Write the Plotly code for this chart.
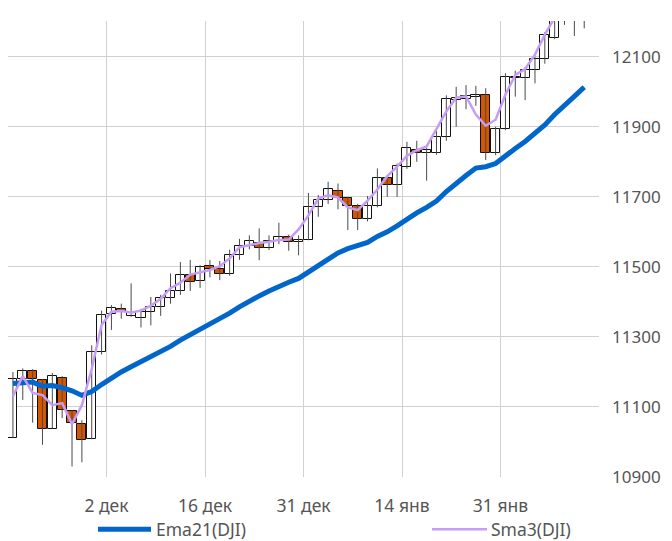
import plotly.graph_objects as go

dates = ["2010-11-18","2010-11-19","2010-11-22","2010-11-23","2010-11-24","2010-11-26","2010-11-29","2010-11-30",
         "2010-12-01","2010-12-02","2010-12-03","2010-12-06","2010-12-07","2010-12-08","2010-12-09","2010-12-10",
         "2010-12-13","2010-12-14","2010-12-15","2010-12-16","2010-12-17","2010-12-20","2010-12-21","2010-12-22",
         "2010-12-23","2010-12-27","2010-12-28","2010-12-29","2010-12-30","2010-12-31","2011-01-03","2011-01-04",
         "2011-01-05","2011-01-06","2011-01-07","2011-01-10","2011-01-11","2011-01-12","2011-01-13","2011-01-14",
         "2011-01-18","2011-01-19","2011-01-20","2011-01-21","2011-01-24","2011-01-25","2011-01-26","2011-01-27",
         "2011-01-28","2011-01-31","2011-02-01","2011-02-02","2011-02-03","2011-02-04","2011-02-07","2011-02-08",
         "2011-02-09","2011-02-10","2011-02-11"]

open_ = [11011,11181,11203,11178,11038,11184,11088,11050,11008,11257,11364,11381,11360,11355,11372,11386,
         11411,11431,11478,11459,11502,11494,11480,11533,11560,11567,11555,11574,11584,11571,11577,11671,
         11691,11717,11697,11674,11638,11674,11755,11733,11786,11835,11825,11826,11872,11976,11978,11986,
         11991,11826,11893,12038,12038,12062,12093,12153,12233,12239,12229]
high = [11200,11210,11208,11180,11197,11188,11090,11062,11276,11375,11391,11395,11453,11380,11414,11420,
        11481,11514,11520,11505,11520,11517,11549,11580,11590,11610,11590,11626,11592,11590,11711,11705,
        11743,11738,11700,11680,11702,11781,11760,11795,11857,11860,11840,11890,11990,12014,12019,12017,
        12010,11900,12053,12060,12070,12100,12170,12245,12250,12245,12285]
low = [11011,11120,11055,10992,11038,11068,10930,10942,11008,11250,11320,11352,11357,11327,11333,11360,
       11395,11420,11431,11440,11470,11462,11475,11520,11550,11519,11548,11565,11546,11533,11576,11643,
       11680,11664,11605,11605,11630,11670,11700,11700,11780,11800,11746,11820,11860,11900,11950,11960,
       11805,11819,11890,11986,11976,12024,12080,12150,12191,12159,12181]
close = [11181,11204,11179,11037,11187,11092,11053,11007,11256,11363,11383,11370,11368,11371,11386,11410,
         11430,11477,11458,11500,11493,11479,11533,11560,11574,11555,11574,11586,11571,11578,11671,11692,
         11723,11697,11675,11638,11674,11755,11733,11788,11838,11826,11835,11872,11980,11981,11988,11991,
         11826,11893,12041,12041,12062,12093,12162,12233,12240,12229,12273]

ema21 = [11167,11170,11171,11159,11161,11155,11146,11133,11144,11164,11184,11200,11215,11229,11242,11257,
         11273,11291,11306,11324,11339,11352,11368,11386,11403,11417,11431,11445,11456,11467,11486,11505,
         11524,11540,11552,11560,11570,11587,11600,11617,11637,11654,11670,11688,11715,11739,11761,11782,
         11786,11795,11818,11838,11858,11880,11905,11935,11963,11987,12013]
sma3 = [11131,11188,11140,11134,11105,11111,11051,11105,11209,11334,11372,11374,11370,11375,11389,11409,
        11439,11455,11478,11484,11491,11502,11524,11556,11563,11568,11572,11577,11578,11607,11647,11695,
        11704,11698,11670,11662,11689,11721,11759,11786,11817,11833,11844,11896,11944,11983,11987,11935,
        11903,11920,11992,12048,12065,12106,12163,12212,12234,12247,12257]

tick_dates = ["2010-12-02","2010-12-16","2010-12-31","2011-01-14","2011-01-31"]
tick_labels = ["2 дек","16 дек","31 дек","14 янв","31 янв"]
y_ticks = [10900,11100,11300,11500,11700,11900,12100]

FONT = "Noto Sans"
TXT = "#555555"
ORANGE = "#d65500"

idx = list(range(len(dates)))

# wicks
wx, wy = [], []
for i in idx:
    wx += [i, i, None]
    wy += [low[i], high[i], None]

body_base = [min(o, c) for o, c in zip(open_, close)]
body_h = [max(abs(c - o), 1) for o, c in zip(open_, close)]
body_col = ["#ffffff" if c >= o else ORANGE for o, c in zip(open_, close)]

fig = go.Figure()
fig.add_trace(go.Scatter(x=wx, y=wy, mode="lines", line=dict(color="#4a4a4a", width=1),
                         showlegend=False, hoverinfo="skip"))
fig.add_trace(go.Bar(x=idx, y=body_h, base=body_base, width=0.92,
                     marker=dict(color=body_col, line=dict(color="#111111", width=1)),
                     showlegend=False))
fig.add_trace(go.Scatter(x=idx, y=ema21, mode="lines", name="Ema21(DJI)",
                         line=dict(color="#0066cc", width=5), showlegend=False))
fig.add_trace(go.Scatter(x=idx, y=sma3, mode="lines", name="Sma3(DJI)",
                         line=dict(color="#c69cf4", width=2.5), showlegend=False))

tickpos = [dates.index(d) + 0.5 for d in tick_dates]
xmin, xmax = -0.5, len(dates) + 0.5

fig.update_xaxes(range=[xmin, xmax], tickmode="array",
                 tickvals=[xmin] + tickpos + [xmax - 0.0001],
                 ticktext=[""] + tick_labels + [""],
                 showgrid=True, gridcolor="#d0d0d0", gridwidth=1,
                 zeroline=False, showline=False, ticks="",
                 tickfont=dict(family=FONT, size=17.5, color=TXT),
                 ticklabelstandoff=16)
fig.update_yaxes(range=[10900, 12202], side="right", tickmode="array", tickvals=y_ticks,
                 ticktext=[str(v) for v in y_ticks],
                 showgrid=True, gridcolor="#d0d0d0", gridwidth=1, zeroline=False,
                 showline=False, ticks="",
                 tickfont=dict(family=FONT, size=17, color=TXT),
                 ticklabelstandoff=12)

# manual legend
L, R, T, B = 8, 599, 21, 476.7
def px(x): return (x - L) / (R - L)
def py(y): return (B - y) / (B - T)
ly = 529
fig.add_shape(type="line", xref="paper", yref="paper", x0=px(98), x1=px(151), y0=py(ly), y1=py(ly),
              line=dict(color="#0066cc", width=5))
fig.add_shape(type="line", xref="paper", yref="paper", x0=px(432), x1=px(487), y0=py(ly), y1=py(ly),
              line=dict(color="#c69cf4", width=2.5))
fig.add_annotation(xref="paper", yref="paper", x=px(154), y=py(ly), text="Ema21(DJI)", showarrow=False,
                   xanchor="left", yanchor="middle", font=dict(family=FONT, size=17.5, color=TXT))
fig.add_annotation(xref="paper", yref="paper", x=px(489), y=py(ly), text="Sma3(DJI)", showarrow=False,
                   xanchor="left", yanchor="middle", font=dict(family=FONT, size=17.5, color=TXT))

fig.update_layout(width=672, height=541, margin=dict(l=L, r=672 - R, t=T, b=541 - B),
                  plot_bgcolor="white", paper_bgcolor="white", showlegend=False, bargap=0)

fig.write_html("out.html", config={"displayModeBar": False},
               post_script="document.body.style.margin='0';document.body.style.overflow='hidden';")
